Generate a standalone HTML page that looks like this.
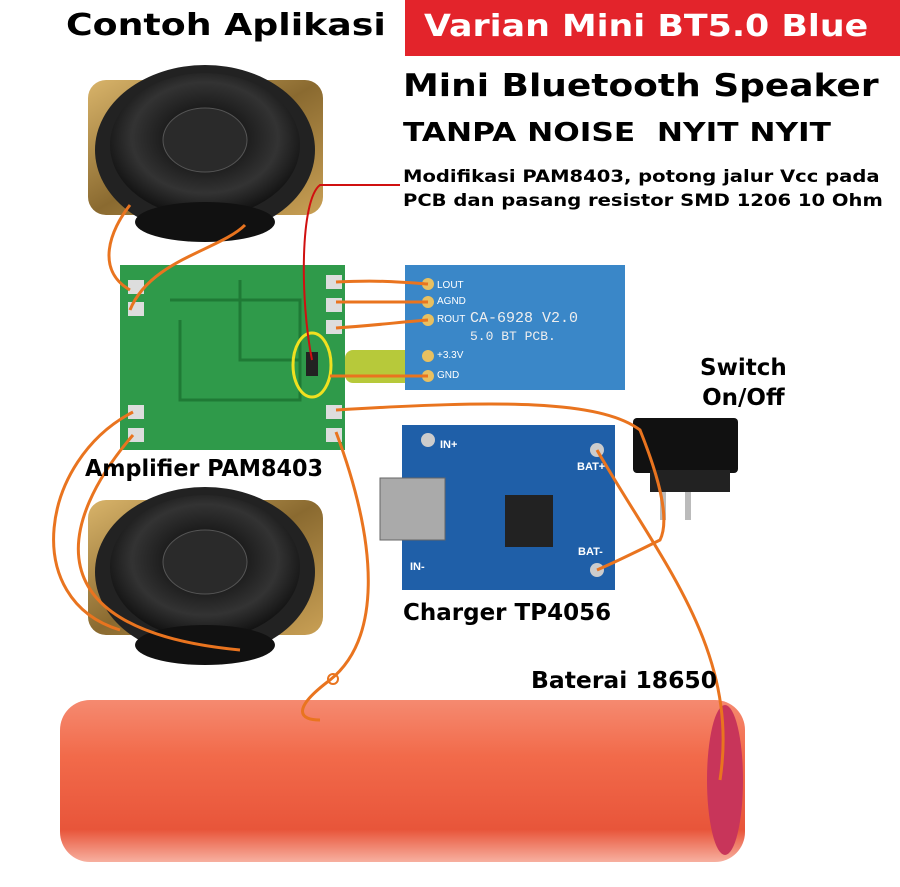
<!DOCTYPE html>
<html><head><meta charset="utf-8"><style>
html,body{margin:0;padding:0;background:#fff;}
body{width:900px;height:887px;overflow:hidden;position:relative;font-family:"DejaVu Sans",sans-serif;}
.t{position:absolute;font-weight:bold;color:#000;white-space:nowrap;transform-origin:0 0;}
</style></head><body>
<svg width="900" height="887" style="position:absolute;left:0;top:0">
<defs>
<radialGradient id="cone" cx="50%" cy="45%" r="55%"><stop offset="0" stop-color="#555"/><stop offset="0.35" stop-color="#1a1a1a"/><stop offset="0.7" stop-color="#333"/><stop offset="1" stop-color="#111"/></radialGradient>
<linearGradient id="bat" x1="0" y1="0" x2="0" y2="1"><stop offset="0" stop-color="#f58a70"/><stop offset="0.35" stop-color="#f26a4a"/><stop offset="0.8" stop-color="#e8553a"/><stop offset="1" stop-color="#f7b0a0"/></linearGradient>
<linearGradient id="gold" x1="0" y1="0" x2="1" y2="1"><stop offset="0" stop-color="#d9b46a"/><stop offset="0.5" stop-color="#8a6a30"/><stop offset="1" stop-color="#c9a055"/></linearGradient>
</defs>
<rect x="405" y="0" width="495" height="56" fill="#e3242b"/>
<rect x="88" y="80" width="235" height="135" rx="18" fill="url(#gold)"/>
<ellipse cx="205" cy="150" rx="110" ry="85" fill="#222"/>
<ellipse cx="205" cy="145" rx="95" ry="72" fill="url(#cone)"/>
<ellipse cx="205" cy="140" rx="42" ry="32" fill="#2a2a2a" stroke="#555"/>
<ellipse cx="205" cy="222" rx="70" ry="20" fill="#111"/>
<rect x="88" y="500" width="235" height="135" rx="18" fill="url(#gold)"/>
<ellipse cx="205" cy="572" rx="110" ry="85" fill="#222"/>
<ellipse cx="205" cy="567" rx="95" ry="72" fill="url(#cone)"/>
<ellipse cx="205" cy="562" rx="42" ry="32" fill="#2a2a2a" stroke="#555"/>
<ellipse cx="205" cy="645" rx="70" ry="20" fill="#111"/>
<rect x="120" y="265" width="225" height="185" fill="#2f9a4a"/>
<path d="M170 300 H300 V400 H180 V320" fill="none" stroke="#1f7a35" stroke-width="3"/>
<path d="M240 280 V360 H300" fill="none" stroke="#1f7a35" stroke-width="3"/>
<g fill="#ddd"><rect x="128" y="280" width="16" height="14"/><rect x="128" y="302" width="16" height="14"/><rect x="128" y="405" width="16" height="14"/><rect x="128" y="428" width="16" height="14"/><rect x="326" y="275" width="16" height="14"/><rect x="326" y="298" width="16" height="14"/><rect x="326" y="320" width="16" height="14"/><rect x="326" y="405" width="16" height="14"/><rect x="326" y="428" width="16" height="14"/></g>
<ellipse cx="312" cy="365" rx="19" ry="32" fill="none" stroke="#f0e020" stroke-width="3"/>
<rect x="306" y="352" width="12" height="24" fill="#222"/>
<rect x="345" y="350" width="70" height="33" rx="8" fill="#b7c93a"/>
<rect x="405" y="265" width="220" height="125" fill="#3a87c8"/>
<text x="470" y="322" font-family="Liberation Mono" font-size="15" fill="#eee">CA-6928 V2.0</text>
<text x="470" y="340" font-family="Liberation Mono" font-size="13" fill="#eee">5.0 BT  PCB.</text>
<g font-family="Liberation Sans" font-size="10" fill="#fff"><text x="437" y="288">LOUT</text><text x="437" y="304">AGND</text><text x="437" y="322">ROUT</text><text x="437" y="358">+3.3V</text><text x="437" y="378">GND</text></g>
<g fill="#e8c060"><circle cx="428" cy="284" r="6"/><circle cx="428" cy="302" r="6"/><circle cx="428" cy="320" r="6"/><circle cx="428" cy="356" r="6"/><circle cx="428" cy="376" r="6"/></g>
<rect x="402" y="425" width="213" height="165" fill="#1f5fa8"/>
<rect x="380" y="478" width="65" height="62" fill="#aaa" stroke="#666"/>
<rect x="505" y="495" width="48" height="52" fill="#222"/>
<circle cx="428" cy="440" r="7" fill="#ccc"/><circle cx="597" cy="450" r="7" fill="#ccc"/><circle cx="597" cy="570" r="7" fill="#ccc"/>
<g font-family="Liberation Sans" font-size="11" fill="#fff" font-weight="bold"><text x="440" y="448">IN+</text><text x="577" y="470">BAT+</text><text x="578" y="555">BAT-</text><text x="410" y="570">IN-</text></g>
<rect x="633" y="418" width="105" height="55" rx="4" fill="#111"/>
<rect x="650" y="470" width="80" height="22" fill="#222"/>
<rect x="660" y="492" width="6" height="28" fill="#bbb"/><rect x="685" y="492" width="6" height="28" fill="#bbb"/>
<rect x="60" y="700" width="685" height="162" rx="30" fill="url(#bat)"/>
<ellipse cx="725" cy="780" rx="18" ry="75" fill="#c8355a"/>
<g fill="none" stroke="#e9741f" stroke-width="3">
<path d="M130 205 C110 230 95 270 130 290"/>
<path d="M245 225 C220 250 150 260 130 310"/>
<path d="M336 282 C380 280 400 282 428 284"/>
<path d="M336 302 H428"/>
<path d="M336 328 C380 325 400 322 428 320"/>
<path d="M330 376 H428"/>
<path d="M133 412 C40 460 20 600 120 630"/>
<path d="M133 435 C60 520 30 630 240 650"/>
<path d="M336 410 C500 400 600 400 640 430 C660 480 670 520 660 540 C640 550 620 560 597 570"/>
<path d="M336 432 C380 550 380 640 330 680 C290 710 300 720 320 720"/>
<path d="M597 450 C660 560 740 650 720 780"/>
</g>
<circle cx="333" cy="679" r="5" fill="none" stroke="#e9741f" stroke-width="2"/>
<path d="M312 360 C300 300 300 200 320 185 H400" fill="none" stroke="#d01010" stroke-width="2"/>
</svg>
<div class="t" style="left:66px;top:8px;font-size:30px;transform:scaleX(1.21);">Contoh Aplikasi</div>
<div class="t" style="left:424px;top:9px;font-size:30px;color:#fff;transform:scaleX(1.16);">Varian Mini BT5.0 Blue</div>
<div class="t" style="left:403px;top:68px;font-size:31px;transform:scaleX(1.16);">Mini Bluetooth Speaker</div>
<div class="t" style="left:403px;top:118px;font-size:26px;transform:scaleX(1.2);">TANPA NOISE&nbsp; NYIT NYIT</div>
<div class="t" style="left:403px;top:165px;font-size:17px;line-height:24px;transform:scaleX(1.15);">Modifikasi PAM8403, potong jalur Vcc pada<br>PCB dan pasang resistor SMD 1206 10 Ohm</div>
<div class="t" style="left:700px;top:353px;font-size:23px;line-height:30px;text-align:center;">Switch<br>On/Off</div>
<div class="t" style="left:85px;top:456px;font-size:23px;transform:scaleX(0.97);">Amplifier PAM8403</div>
<div class="t" style="left:403px;top:600px;font-size:23px;">Charger TP4056</div>
<div class="t" style="left:531px;top:668px;font-size:23px;transform:scaleX(1.02);">Baterai 18650</div>
</body></html>
